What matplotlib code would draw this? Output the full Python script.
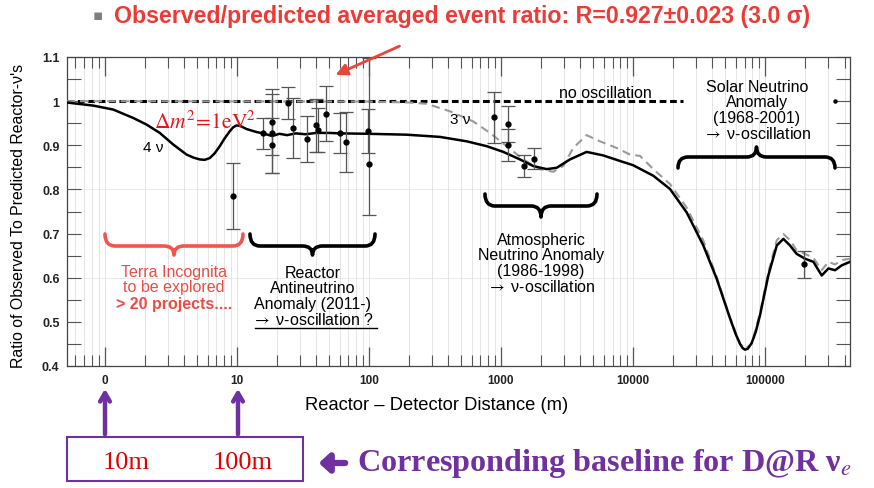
import matplotlib
matplotlib.use("Agg")
import matplotlib.pyplot as plt
from matplotlib.path import Path
from matplotlib.patches import PathPatch, Rectangle
from matplotlib.ticker import FixedLocator, FixedFormatter, LogLocator, NullFormatter, MultipleLocator

plt.rcParams['font.family'] = ['Liberation Sans', 'DejaVu Sans']
plt.rcParams['mathtext.fontset'] = 'stix'

# ---- 4-neutrino prediction (Δm² = 1 eV²)
dist_4nu = [0.513, 0.815, 1.156, 1.64, 2.07, 2.61, 3.29, 4.16, 4.7, 5.24, 5.7, 6.24, 6.8, 7.43,
            8.1, 8.85, 9.4, 9.95, 10.6, 11.8, 14.1, 15.8, 18.5, 21, 24, 28, 33, 40, 50, 60.3,
            100, 193, 345, 550, 780, 1043, 1393, 1757, 2219, 2642, 3333, 4457, 5958, 8446,
            10000, 14250, 19070, 25500, 34100, 43000, 54300, 60000, 64700, 67500, 70500,
            74000, 79200, 85000, 91600, 105900, 122700, 137700, 154600, 173600, 200900,
            232400, 268700, 302000, 339000, 381000, 440000]
ratio_4nu = [0.997, 0.990, 0.981, 0.962, 0.947, 0.928, 0.902, 0.879, 0.872, 0.868, 0.867, 0.871,
             0.882, 0.898, 0.916, 0.932, 0.941, 0.945, 0.944, 0.937, 0.930, 0.927, 0.921, 0.926,
             0.923, 0.927, 0.925, 0.928, 0.928, 0.927, 0.926, 0.924, 0.919, 0.909, 0.898, 0.885,
             0.868, 0.853, 0.846, 0.849, 0.868, 0.885, 0.877, 0.862, 0.855, 0.831, 0.801, 0.748,
             0.673, 0.598, 0.508, 0.472, 0.450, 0.441, 0.437, 0.439, 0.452, 0.477, 0.515, 0.605,
             0.673, 0.688, 0.673, 0.654, 0.643, 0.636, 0.605, 0.621, 0.617, 0.628, 0.636]

# ---- 3-neutrino prediction
dist_3nu = [0.513, 100, 200, 274, 411, 617, 826, 1104, 1476, 1974, 2489, 2963, 3530, 4457, 5623,
            7516, 9480, 11300, 14250, 19070, 25500, 34100, 43000, 54300, 64700, 70500, 79200,
            91600, 105900, 122700, 137700, 154600, 173600, 200900, 232400, 268700, 302000,
            339000, 381000, 440000]
ratio_3nu = [1.0, 0.999, 0.997, 0.994, 0.977, 0.954, 0.928, 0.898, 0.868, 0.846, 0.840, 0.853,
             0.894, 0.923, 0.909, 0.894, 0.879, 0.876, 0.846, 0.812, 0.759, 0.684, 0.602, 0.510,
             0.450, 0.439, 0.450, 0.520, 0.612, 0.685, 0.699, 0.685, 0.662, 0.654, 0.645, 0.617,
             0.636, 0.630, 0.640, 0.643]

# ---- reactor measurements
exp_dist = [9.3, 15.8, 18.5, 18.5, 18.5, 24.5, 26.4, 34.1, 39.6, 41.5, 47.3, 60.2, 67.5,
            97.9, 100.4, 885, 1130, 1130, 1500, 1775, 197000]
exp_ratio = [0.786, 0.927, 0.953, 0.927, 0.900, 0.996, 0.940, 0.915, 0.945, 0.934, 0.972, 0.928,
             0.907, 0.932, 0.858, 0.963, 0.949, 0.900, 0.853, 0.870, 0.630]
exp_err_lo = [0.075, 0.035, 0.074, 0.089, 0.062, 0.037, 0.068, 0.052, 0.060, 0.050, 0.062, 0.045,
              0.068, 0.050, 0.117, 0.058, 0.041, 0.036, 0.025, 0.024, 0.031]
exp_err_hi = [0.075, 0.035, 0.074, 0.089, 0.062, 0.037, 0.068, 0.052, 0.060, 0.050, 0.062, 0.045,
              0.068, 0.050, 0.240, 0.058, 0.041, 0.036, 0.025, 0.024, 0.031]
far_dist = [340000]
far_ratio = [1.0]

no_osc_dist = [0.513, 23900]
no_osc_ratio = [1.0, 1.0]

x_tick_pos = [1, 10, 100, 1000, 10000, 100000]
x_tick_lab = ["0", "10", "100", "1000", "10000", "100000"]
y_tick_pos = [0.4, 0.5, 0.6, 0.7, 0.8, 0.9, 1.0, 1.1]
y_tick_lab = ["0.4", "0.5", "0.6", "0.7", "0.8", "0.9", "1", "1.1"]

W, H = 874, 489
fig = plt.figure(figsize=(W / 100, H / 100), dpi=100)
fig.patch.set_facecolor("white")

ax = fig.add_axes([66.5 / W, 1 - 367 / H, (850 - 66.5) / W, (367 - 58) / H])
ax.set_xscale("log")
ax.set_xlim(0.513, 440000)
ax.set_ylim(0.4, 1.1)

ax.xaxis.set_major_locator(FixedLocator(x_tick_pos))
ax.xaxis.set_major_formatter(FixedFormatter(x_tick_lab))
ax.xaxis.set_minor_locator(LogLocator(base=10, subs=range(2, 10), numticks=30))
ax.xaxis.set_minor_formatter(NullFormatter())
ax.yaxis.set_major_locator(FixedLocator(y_tick_pos))
ax.yaxis.set_major_formatter(FixedFormatter(y_tick_lab))
ax.yaxis.set_minor_locator(MultipleLocator(0.05))
ax.grid(which="both", axis="x", color="#e0e0e0", lw=0.6, zorder=0)
for yv in (0.6, 0.8):
    ax.axhline(yv, color="#e6e6e6", lw=0.6, zorder=0)

ax.tick_params(axis="x", which="major", direction="in", length=14, width=0.9, top=True,
               labelsize=8.5, pad=6, color="#555555")
ax.tick_params(axis="x", which="minor", direction="in", length=8, width=0.8, top=True,
               color="#555555")
ax.tick_params(axis="y", which="both", direction="in", length=10, width=0.8, right=True,
               labelsize=9, pad=5, color="#555555")
for lab in ax.get_xticklabels() + ax.get_yticklabels():
    lab.set_fontweight("bold")
    lab.set_color("#222222")
for s in ax.spines.values():
    s.set_color("#444444")
    s.set_linewidth(0.9)

# curves
ax.plot(no_osc_dist, no_osc_ratio, color="black", lw=2.2, ls=(0, (2.2, 1.2)), zorder=3)
ax.plot(dist_3nu, ratio_3nu, color="#9a9a9a", lw=1.5, ls=(0, (4, 2.5)), zorder=4)
ax.plot(dist_4nu, ratio_4nu, color="black", lw=1.8, zorder=5)

# measurements
ax.errorbar(exp_dist, exp_ratio, yerr=[exp_err_lo, exp_err_hi], fmt="o", color="black",
            ms=3.5, ecolor="#555555", elinewidth=0.9, capsize=5, capthick=0.9, zorder=6)
ax.plot(far_dist, far_ratio, "o", color="black", ms=2.2, zorder=6)

ax.set_xlabel("Reactor \u2013 Detector Distance (m)", fontsize=13.2)
ax.xaxis.set_label_coords(0.472, -0.097)
ax.set_ylabel("Ratio of Observed To Predicted Reactor-\u03bd's", fontsize=11.4)
ax.yaxis.set_label_coords(-0.052, 0.49)

# ---- annotation layer in pixel coordinates
ov = fig.add_axes([0, 0, 1, 1], zorder=10)
ov.set_xlim(0, W)
ov.set_ylim(H, 0)
ov.axis("off")
ov.patch.set_alpha(0)


def brace(x0, x1, y_end, y_flat, y_tip, color, lw=2.6, r=10):
    xc = (x0 + x1) / 2
    verts = [(x0, y_end), (x0, y_flat), (x0 + r, y_flat), (xc - r, y_flat),
             (xc, y_flat), (xc, y_tip), (xc, y_flat), (xc + r, y_flat),
             (x1 - r, y_flat), (x1, y_flat), (x1, y_end)]
    codes = [Path.MOVETO, Path.CURVE3, Path.CURVE3, Path.LINETO,
             Path.CURVE3, Path.CURVE3, Path.CURVE3, Path.CURVE3,
             Path.LINETO, Path.CURVE3, Path.CURVE3]
    ov.add_patch(PathPatch(Path(verts, codes), fill=False, ec=color, lw=lw,
                           capstyle="round", joinstyle="round"))


arrow = r"$\rightarrow$"
red_txt = "#ef4b43"
lab_fs = 11.5
brace(105, 243, 235, 247, 256, "#f0564e")
brace(250, 375, 235, 247, 256, "black")
brace(485, 597, 195, 207, 218, "black")
brace(678, 835, 169, 158, 148, "black")

ov.text(174, 280, "Terra Incognita\nto be explored", color=red_txt, fontsize=lab_fs,
        ha="center", va="center", linespacing=1.05)
ov.text(174, 304, "> 20 projects....", color=red_txt, fontsize=lab_fs, fontweight="bold",
        ha="center", va="center")
ov.text(313, 297, "Reactor\nAntineutrino\nAnomaly (2011-)\n" + arrow + " \u03bd-oscillation ?",
        color="black", fontsize=lab_fs, ha="center", va="center", linespacing=1.05)
ov.plot([255, 377], [329, 329], color="black", lw=1.0)
ov.text(541, 264, "Atmospheric\nNeutrino Anomaly\n(1986-1998)\n" + arrow + " \u03bd-oscillation",
        color="black", fontsize=lab_fs, ha="center", va="center", linespacing=1.05)
ov.text(757, 111, "Solar Neutrino\nAnomaly\n(1968-2001)\n" + arrow + " \u03bd-oscillation",
        color="black", fontsize=lab_fs, ha="center", va="center", linespacing=1.05)
ov.text(605, 93, "no oscillation", color="black", fontsize=lab_fs, ha="center", va="center")
ov.text(153, 148, "4 \u03bd", color="black", fontsize=11, ha="center", va="center")
ov.text(460, 120, "3 \u03bd", color="black", fontsize=11, ha="center", va="center")
ov.text(205, 123, r"$\Delta m^2\!=\!1\mathrm{eV}^2$", color="#e8141c", fontsize=15.5,
        ha="center", va="center")

# headline
ov.text(98, 16, "\u25aa", color="#7f7f7f", fontsize=11, ha="center", va="center",
        family="DejaVu Sans")
ov.text(114, 16, "Observed/predicted averaged event ratio: R=0.927\u00b10.023 (3.0 \u03c3)",
        color="#ee3a36", fontsize=16.7, fontweight="bold", ha="left", va="center")
ov.annotate("", xy=(333, 77), xytext=(402, 46),
            arrowprops=dict(arrowstyle="-|>,head_length=0.7,head_width=0.35",
                            color="#e8453c", lw=2))

# baseline box
purple = "#7030a0"
for xa in (105, 238):
    ov.annotate("", xy=(xa, 387), xytext=(xa, 438),
                arrowprops=dict(arrowstyle="->,head_length=0.6,head_width=0.35",
                                color=purple, lw=3.2))
ov.add_patch(Rectangle((67, 438), 236, 44, fill=False, ec=purple, lw=1.5))
ov.text(126, 463, "10m", color="#e00000", fontsize=19, family="Liberation Serif",
        ha="center", va="center")
ov.text(243, 463, "100m", color="#e00000", fontsize=19, family="Liberation Serif",
        ha="center", va="center")
ov.annotate("", xy=(316, 464), xytext=(348, 464),
            arrowprops=dict(arrowstyle="-|>,head_length=0.6,head_width=0.55",
                            color=purple, lw=4.5))
ov.text(357, 464, "Corresponding baseline for D@R \u03bd$_e$", color=purple, fontsize=23.2,
        family="Liberation Serif", fontweight="bold", ha="left", va="center")

fig.savefig("out.png", dpi=100)
